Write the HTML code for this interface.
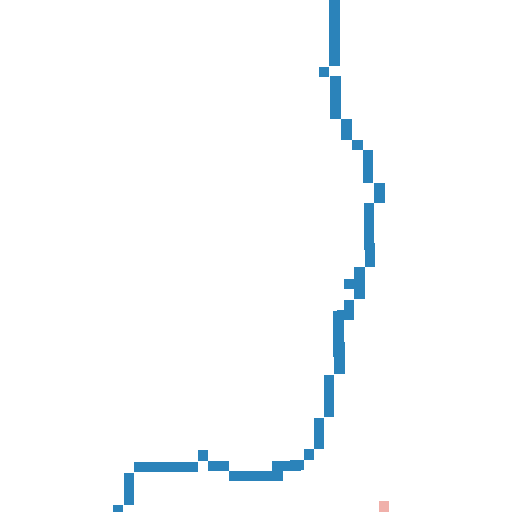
<!DOCTYPE html>
<html><head><meta charset="utf-8"><style>
html,body{margin:0;padding:0;background:#fff;}
svg{display:block;}
</style></head><body>
<svg width="512" height="512" viewBox="0 0 512 512">
<g fill="#2b83ba">
<rect x="329" y="0" width="11" height="66"/>
<rect x="319" y="67" width="10" height="10"/>
<rect x="330" y="76" width="11" height="43"/>
<rect x="341" y="119" width="11" height="21"/>
<rect x="352" y="140" width="11" height="10"/>
<rect x="363" y="150" width="10" height="33"/>
<rect x="374" y="183" width="11" height="20"/>
<rect x="364" y="203" width="10" height="47"/>
<rect x="365" y="243" width="10" height="24"/>
<rect x="354" y="267" width="11" height="32"/>
<rect x="344" y="279" width="10" height="10"/>
<rect x="344" y="300" width="10" height="20"/>
<rect x="337" y="310" width="10" height="10"/>
<rect x="333" y="311" width="11" height="46"/>
<rect x="334" y="342" width="11" height="32"/>
<rect x="324" y="375" width="10" height="42"/>
<rect x="314" y="418" width="10" height="31"/>
<rect x="304" y="449" width="10" height="11"/>
<rect x="290" y="460" width="14" height="10"/>
<rect x="272" y="461" width="29" height="10"/>
<rect x="272" y="461" width="11" height="20"/>
<rect x="229" y="471" width="54" height="10"/>
<rect x="208" y="461" width="21" height="10"/>
<rect x="198" y="450" width="10" height="11"/>
<rect x="134" y="462" width="64" height="10"/>
<rect x="124" y="473" width="10" height="32"/>
<rect x="113" y="505" width="10" height="7"/>
</g>
<rect x="379" y="501" width="10" height="11" fill="#f0b0aa"/>
</svg>
</body></html>
